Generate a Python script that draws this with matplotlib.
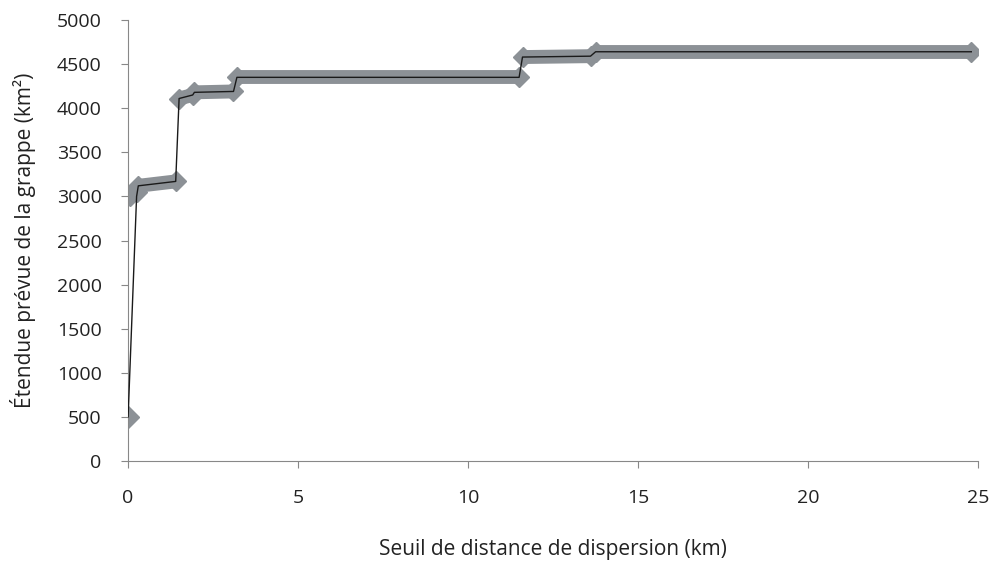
import matplotlib
matplotlib.use("Agg")
import matplotlib.pyplot as plt

plt.rcParams['font.family'] = ['Open Sans', 'DejaVu Sans']

# Plateau segments (start x, end x, start y, end y)
seg_x0 = [0.05, 0.30, 1.50, 1.95, 3.20, 11.60, 13.75]
seg_x1 = [0.25, 1.40, 1.90, 3.10, 11.50, 13.60, 24.80]
seg_y0 = [3000, 3120, 4110, 4180, 4350, 4580, 4640]
seg_y1 = [3050, 3170, 4150, 4190, 4350, 4590, 4640]

# Full curve through all points
line_x = [0.0, 0.25, 0.30, 1.40, 1.50, 1.90, 1.95, 3.10, 3.20, 11.50, 11.60, 13.60, 13.75, 24.80]
line_y = [500, 3000, 3120, 3170, 4110, 4150, 4180, 4190, 4350, 4350, 4580, 4590, 4640, 4640]

first_x = [0.0]
first_y = [500]

x_ticks = [0, 5, 10, 15, 20, 25]
y_ticks = list(range(0, 5001, 500))

fig = plt.figure(figsize=(9.93, 5.62), dpi=100)
ax = fig.add_axes([0.129, 0.1797, 0.856, 0.7847])

band_color = '#8c9196'
for x0, x1, y0, y1 in zip(seg_x0, seg_x1, seg_y0, seg_y1):
    ax.plot([x0, x1], [y0, y1], color=band_color, lw=10, solid_capstyle='butt', zorder=2)
    ax.plot([x0, x1], [y0, y1], ls='none', marker='D', ms=10, color=band_color, zorder=2)
ax.plot(first_x, first_y, ls='none', marker='D', ms=11, color=band_color, zorder=2)
ax.plot(line_x, line_y, color='#1a1a1a', lw=1.0, zorder=3)

ax.set_xlim(0, 25)
ax.set_ylim(0, 5000)
ax.set_xticks(x_ticks)
ax.set_yticks(y_ticks)
ax.set_xticklabels([str(v) for v in x_ticks])
ax.set_yticklabels([str(v) for v in y_ticks])

for s in ['top', 'right']:
    ax.spines[s].set_visible(False)
ax.spines['left'].set_color('#888888')
ax.spines['left'].set_linestyle((0, (1, 1)))
ax.spines['left'].set_linewidth(0.8)
ax.spines['bottom'].set_color('#888888')
ax.spines['bottom'].set_linewidth(0.8)
ax.tick_params(axis='both', direction='out', length=5, width=0.8, color='#888888',
               labelsize=14, labelcolor='#222222')
ax.tick_params(axis='x', pad=15)
ax.tick_params(axis='y', pad=14)

ax.set_xlabel('Seuil de distance de dispersion (km)', fontsize=15, color='#222222', labelpad=23)
ax.set_ylabel('Étendue prévue de la grappe (km²)', fontsize=15, color='#222222', labelpad=15)

fig.savefig('out.png', dpi=100)
